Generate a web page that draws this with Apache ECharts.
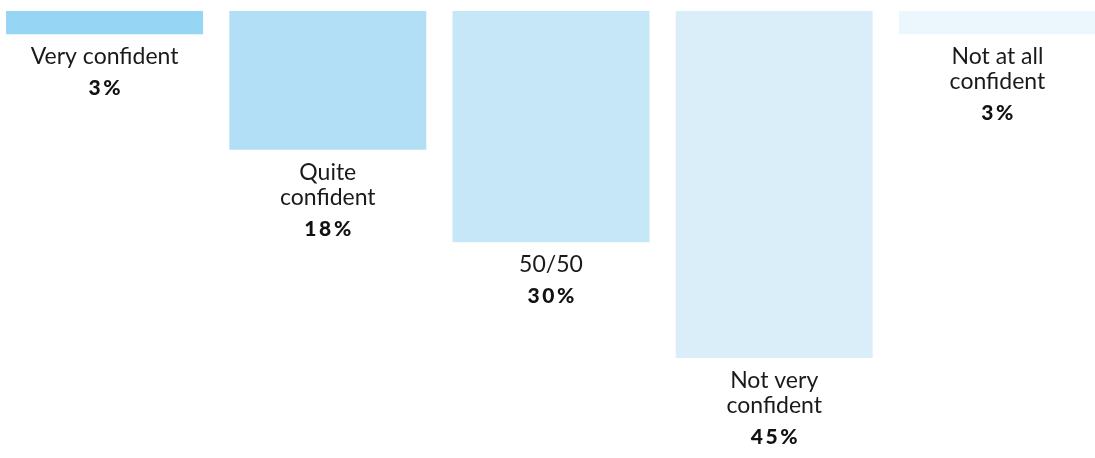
<!DOCTYPE html>
<html>
<head>
<meta charset="utf-8">
<script src="https://cdn.jsdelivr.net/npm/echarts@6/dist/echarts.min.js"></script>
<style>
  html, body { margin: 0; padding: 0; background: #ffffff; }
  #chart { width: 1095px; height: 458px; }
</style>
</head>
<body>
<div id="chart"></div>
<script>
// Confidence levels (share of respondents, %)
const categories = ['Very confident', 'Quite\nconfident', '50/50', 'Not very\nconfident', 'Not at all\nconfident'];
const shares = [3, 18, 30, 45, 3];
const barColors = ['#96d5f4', '#b2dff6', '#c6e7f8', '#daeefa', '#ecf6fd'];

// Spread the characters of the percentage a little apart
function spaced(text) {
  return text.split('').join('\u2009');
}

const chart = echarts.init(document.getElementById('chart'), null, { renderer: 'canvas' });

chart.setOption({
  animation: false,
  grid: {
    left: -7, top: 11, width: 1116, bottom: 61.5,
    containLabel: false,
    outerBoundsMode: 'none'
  },
  xAxis: {
    type: 'category',
    data: categories,
    show: false
  },
  yAxis: {
    type: 'value',
    inverse: true,
    min: 0,
    max: 50,
    show: false
  },
  series: [{
    type: 'bar',
    barWidth: 197,
    data: shares.map((v, i) => ({ value: v, itemStyle: { color: barColors[i] } })),
    label: {
      show: true,
      position: 'bottom',
      distance: 10,
      formatter: p => '{c|' + p.name + '}\n{p|' + spaced(p.value + '%') + '}',
      rich: {
        c: {
          fontFamily: 'Lato',
          fontSize: 23,
          lineHeight: 25,
          color: '#1a1a1a',
          align: 'center'
        },
        p: {
          fontFamily: 'Lato',
          fontWeight: 900,
          fontSize: 21,
          lineHeight: 38,
          color: '#111111',
          align: 'center'
        }
      }
    }
  }]
});
</script>
</body>
</html>
